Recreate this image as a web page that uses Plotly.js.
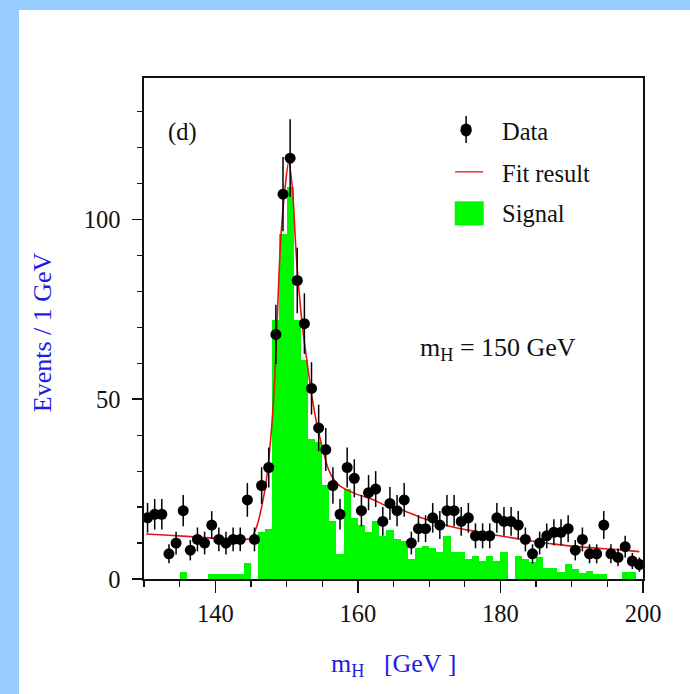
<!DOCTYPE html>
<html>
<head>
<meta charset="utf-8">
<script src="https://cdn.plot.ly/plotly-3.0.1.min.js"></script>
<style>
  html, body { margin: 0; padding: 0; background: #ffffff; }
  #wrap { position: relative; width: 690px; height: 694px; overflow: hidden; }
  #chart { position: absolute; left: 0; top: 0; width: 690px; height: 694px; }
  .band { position: absolute; background: rgb(153, 204, 255); z-index: 5; }
</style>
</head>
<body>
<div id="wrap">
  <div id="chart"></div>
  <div class="band" style="left:0; top:0; width:690px; height:10px;"></div>
  <div class="band" style="left:0; top:0; width:19px; height:694px;"></div>
</div>
<script>
// Bin centres of the 1 GeV mass bins (GeV)
const massBins = [
  130.5, 131.5, 132.5, 133.5, 134.5, 135.5, 136.5, 137.5, 138.5, 139.5,
  140.5, 141.5, 142.5, 143.5, 144.5, 145.5, 146.5, 147.5, 148.5, 149.5,
  150.5, 151.5, 152.5, 153.5, 154.5, 155.5, 156.5, 157.5, 158.5, 159.5,
  160.5, 161.5, 162.5, 163.5, 164.5, 165.5, 166.5, 167.5, 168.5, 169.5,
  170.5, 171.5, 172.5, 173.5, 174.5, 175.5, 176.5, 177.5, 178.5, 179.5,
  180.5, 181.5, 182.5, 183.5, 184.5, 185.5, 186.5, 187.5, 188.5, 189.5,
  190.5, 191.5, 192.5, 193.5, 194.5, 195.5, 196.5, 197.5, 198.5, 199.5
];

// Observed events per bin
const dataCounts = [
  17, 18, 18, 7, 10, 19, 8, 11, 10, 15,
  11, 10, 11, 11, 22, 11, 26, 31, 68, 107,
  117, 83, 71, 53, 42, 36, 26, 18, 31, 28,
  19, 24, 25, 16, 21, 19, 22, 10, 14, 14,
  17, 15, 19, 19, 16, 17, 12, 12, 12, 17,
  16, 16, 15, 11, 7, 10, 12, 13, 13, 14,
  8, 11, 7, 7, 15, 7, 6, 9, 5, 4
];

// Expected signal per bin
const signalCounts = [
  0, 0, 0, 0, 0, 2, 0, 0, 0, 1.5,
  1.5, 1.5, 1.5, 1.5, 4.5, 0, 13, 14, 72, 96,
  109, 72, 61, 39, 38, 26, 16, 7, 25, 17,
  15, 13, 16, 12, 13.5, 11, 10.5, 5.5, 8.5, 9.3,
  8.5, 7.4, 12, 7.4, 7.4, 5.6, 6.5, 5, 6.5, 5,
  7.4, 0, 6.5, 5.5, 4.6, 6, 3, 3, 2, 4.2,
  2.8, 1.8, 2.3, 1.5, 1.5, 0, 0, 2, 2, 0
];

// Fitted signal + background curve
const fitMass = [
  130.3, 134, 138, 142, 144, 145, 145.8, 146.5, 147.2, 147.9,
  148.4, 148.8, 149.2, 149.8, 150.3, 150.8, 151.3, 151.7, 152.3, 152.9,
  153.5, 154.2, 154.9, 155.7, 156.5, 157.5, 159.8, 162, 164, 166,
  168.7, 173, 178.5, 184, 187.5, 192, 197, 199.5
];
const fitValue = [
  12.5, 12.1, 11.6, 11.1, 11.0, 11.3, 14.5, 20, 28, 42,
  58, 78, 95, 109, 116, 109, 92, 81, 69, 60,
  51.5, 43.5, 37.5, 31.5, 28, 25.8, 23.6, 22.2, 20.3, 19.3,
  17.2, 14.6, 12.5, 10.7, 9.7, 8.8, 8.1, 7.6
];

const xTickVals = [140, 160, 180, 200];
const yTickVals = [0, 50, 100];

const serif = 'Liberation Serif, Times New Roman, serif';
const blue = 'rgb(28, 28, 228)';
const green = 'rgb(0, 248, 0)';
const red = 'rgb(228, 20, 20)';

const traces = [
  {
    type: 'bar',
    name: 'Signal',
    x: massBins,
    y: signalCounts,
    width: 1,
    marker: { color: green, line: { width: 0 } },
    hoverinfo: 'skip'
  },
  {
    type: 'scatter',
    mode: 'lines',
    name: 'Fit result',
    x: fitMass,
    y: fitValue,
    line: { color: red, width: 1.6, shape: 'spline', smoothing: 0.8 }
  },
  {
    type: 'scatter',
    mode: 'markers',
    name: 'Data',
    x: massBins,
    y: dataCounts,
    marker: { color: '#000', size: 11, symbol: 'circle' },
    error_y: {
      type: 'data',
      array: dataCounts.map(Math.sqrt),
      visible: true,
      color: '#000',
      thickness: 1.5,
      width: 0
    }
  }
];

// Hand-drawn key symbols, in plot-area (paper) coordinates
const legendShapes = [
  { type: 'line', xref: 'paper', yref: 'paper', x0: 0.6455, x1: 0.6455, y0: 0.8704, y1: 0.9242,
    line: { color: '#000', width: 1.5 } },
  { type: 'circle', xref: 'paper', yref: 'paper', x0: 0.6340, x1: 0.6570, y0: 0.8833, y1: 0.9093,
    fillcolor: '#000', line: { color: '#000', width: 0 } },
  { type: 'line', xref: 'paper', yref: 'paper', x0: 0.6234, x1: 0.6796, y0: 0.8126, y1: 0.8126,
    line: { color: red, width: 1.3 } },
  { type: 'rect', xref: 'paper', yref: 'paper', x0: 0.6226, x1: 0.6808, y0: 0.7057, y1: 0.7539,
    fillcolor: green, line: { width: 0 } }
];

const textFont = { family: serif, size: 24.5, color: '#111' };
const titleFont = { family: serif, size: 26, color: blue };

const annotations = [
  { text: '(d)', xref: 'paper', yref: 'paper', x: 0.045, y: 0.893, xanchor: 'left', yanchor: 'middle',
    showarrow: false, font: textFont },
  { text: 'Data', xref: 'paper', yref: 'paper', x: 0.714, y: 0.893, xanchor: 'left', yanchor: 'middle',
    showarrow: false, font: textFont },
  { text: 'Fit result', xref: 'paper', yref: 'paper', x: 0.714, y: 0.809, xanchor: 'left', yanchor: 'middle',
    showarrow: false, font: textFont },
  { text: 'Signal', xref: 'paper', yref: 'paper', x: 0.714, y: 0.729, xanchor: 'left', yanchor: 'middle',
    showarrow: false, font: textFont },
  { text: 'm<sub>H</sub> = 150 GeV', xref: 'paper', yref: 'paper', x: 0.549, y: 0.46, xanchor: 'left', yanchor: 'middle',
    showarrow: false, font: { family: serif, size: 26, color: '#111' } },
  { text: 'Events / 1 GeV', xref: 'paper', yref: 'paper', x: -0.204, y: 0.493, xanchor: 'center', yanchor: 'middle',
    textangle: -90, showarrow: false, font: titleFont },
  { text: 'm<sub>H</sub>   [GeV ]', xref: 'paper', yref: 'paper', x: 0.5, y: -0.172, xanchor: 'center', yanchor: 'middle',
    showarrow: false, font: titleFont }
];

const tickFont = { family: serif, size: 24.5, color: '#111' };

const layout = {
  width: 690,
  height: 694,
  margin: { l: 144, r: 47, t: 78, b: 115, pad: 0 },
  paper_bgcolor: '#ffffff',
  plot_bgcolor: '#ffffff',
  showlegend: false,
  bargap: 0,
  font: { family: serif, size: 24, color: '#111' },
  xaxis: {
    range: [130, 200],
    tickmode: 'array',
    tickvals: xTickVals,
    ticks: 'outside',
    ticklen: 12,
    tickwidth: 1.4,
    tickcolor: '#111',
    ticklabelstandoff: 0,
    tickfont: tickFont,
    minor: { dtick: 5, tick0: 130, ticks: 'outside', ticklen: 6, tickwidth: 1.2, tickcolor: '#111', showgrid: false },
    showline: true,
    linecolor: '#111',
    linewidth: 1.6,
    mirror: true,
    showgrid: false,
    zeroline: false,
    fixedrange: true
  },
  yaxis: {
    range: [0, 139.3],
    tickmode: 'array',
    tickvals: yTickVals,
    ticks: 'outside',
    ticklen: 10,
    tickwidth: 1.4,
    tickcolor: '#111',
    ticklabelstandoff: 7,
    tickfont: tickFont,
    minor: { dtick: 10, tick0: 0, ticks: 'outside', ticklen: 5, tickwidth: 1.2, tickcolor: '#111', showgrid: false },
    showline: true,
    linecolor: '#111',
    linewidth: 1.6,
    mirror: true,
    showgrid: false,
    zeroline: false,
    fixedrange: true
  },
  shapes: legendShapes,
  annotations: annotations
};

Plotly.newPlot('chart', traces, layout, { staticPlot: true, displayModeBar: false });
</script>
</body>
</html>
